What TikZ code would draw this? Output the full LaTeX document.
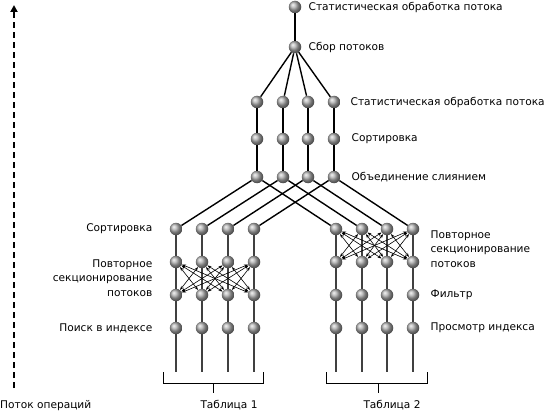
\documentclass[tikz,border=0pt]{standalone}
\usepackage{fontspec}
\setmainfont{DejaVu Sans}
\usetikzlibrary{
  arrows.meta,
  positioning
}
\definecolor{colgray}{RGB}{64,64,64}

\begin{document}
\begin{tikzpicture}[
  x=1pt, y=-1pt,
  font=\fontsize{10.6}{14.5}\selectfont,
  ball/.style={
    circle,
    inner sep=0pt,
    minimum size=12.5pt,
    shading=ball,
    ball color=gray!65
  },
  lbl/.style={inner sep=0pt, anchor=west, align=left},
  lblleft/.style={inner sep=0pt, anchor=east, align=right},
  flow/.style={line width=1.4pt, draw=black},
  colline/.style={line width=2pt, draw=colgray},
  xch/.style={
    line width=0.6pt,
    {Stealth[length=4pt,width=3pt]}-{Stealth[length=4pt,width=3pt]}
  },
  brk/.style={line width=1pt}
]
\useasboundingbox (0,0) rectangle (545,414);

% upper tree
\node[ball] (top) at (295,7) {};
\node[lbl, right=7pt of top] (toplbl) {Статистическая обработка потока};
\node[ball] (gath) at (295,47) {};
\node[lbl, right=7pt of gath] (gathlbl) {Сбор потоков};

\foreach \i/\x in {1/257,2/283,3/308,4/334}{
  \node[ball] (s\i) at (\x,102) {};
  \node[ball] (o\i) at (\x,139) {};
  \node[ball] (m\i) at (\x,177) {};
}
\node[lbl, right=10pt of s4] (slbl) {Статистическая обработка потока};
\node[lbl, right=11pt of o4] (olbl) {Сортировка};
\node[lbl, right=11pt of m4] (mlbl) {Объединение слиянием};

% table 1
\foreach \i/\x in {1/176,2/202,3/228,4/254}{
  \node[ball] (la\i) at (\x,229) {};
  \node[ball] (lb\i) at (\x,262) {};
  \node[ball] (lc\i) at (\x,295) {};
  \node[ball] (ld\i) at (\x,328) {};
  \coordinate (le\i) at (\x,372);
}
\node[lblleft, left=17pt of la1] (lalbl) {Сортировка};
\node[lblleft, left=17pt of lb1, yshift=-16pt] (lblbl) {Повторное\\секционирование\\потоков};
\node[lblleft, left=17pt of ld1] (ldlbl) {Поиск в индексе};

% table 2
\foreach \i/\x in {1/336,2/362,3/387,4/413}{
  \node[ball] (ra\i) at (\x,229) {};
  \node[ball] (rb\i) at (\x,262) {};
  \node[ball] (rc\i) at (\x,295) {};
  \node[ball] (rd\i) at (\x,328) {};
  \coordinate (re\i) at (\x,372);
}
\node[lbl, right=11pt of ra4, yshift=-20pt] (rblbl) {Повторное\\секционирование\\потоков};
\node[lbl, right=11pt of rc4] (rclbl) {Фильтр};
\node[lbl, right=11pt of rd4] (rdlbl) {Просмотр индекса};

% connectors
\draw[flow] (top) -- (gath);
\foreach \i in {1,...,4}{
  \draw[flow] (gath) -- (s\i);
  \draw[flow] (s\i) -- (o\i) -- (m\i);
  \draw[flow] (m\i) -- (la\i);
  \draw[flow] (m\i) -- (ra\i);
  \draw[colline] (la\i) -- (lb\i) -- (lc\i) -- (ld\i) -- (le\i);
  \draw[colline] (ra\i) -- (rb\i) -- (rc\i) -- (rd\i) -- (re\i);
}
\foreach \i in {1,...,4}{
  \foreach \j in {1,...,4}{
    \ifnum\i=\j\else
      \draw[xch] (lc\i) -- (lb\j);
      \draw[xch] (rb\i) -- (ra\j);
    \fi
  }
}

% tables
\draw[brk] (163,372) |- (263,383) -- (263,372);
\draw[brk] (213,383) -- (213,393);
\node[inner sep=0pt] (tab1) at (229,405) {Таблица 1};
\draw[brk] (326,372) |- (427,383) -- (427,372);
\draw[brk] (378,383) -- (378,393);
\node[inner sep=0pt] (tab2) at (392,405) {Таблица 2};

% operation flow
\coordinate (fstart) at (14,388);
\coordinate (fend) at (14,5);
\draw[line width=2pt, dash pattern=on 6pt off 4pt,
  -{Triangle[length=7pt,width=7pt]}] (fstart) -- (fend);
\node[lbl] (flowlbl) at (0,406) {Поток операций};

\end{tikzpicture}
\end{document}
